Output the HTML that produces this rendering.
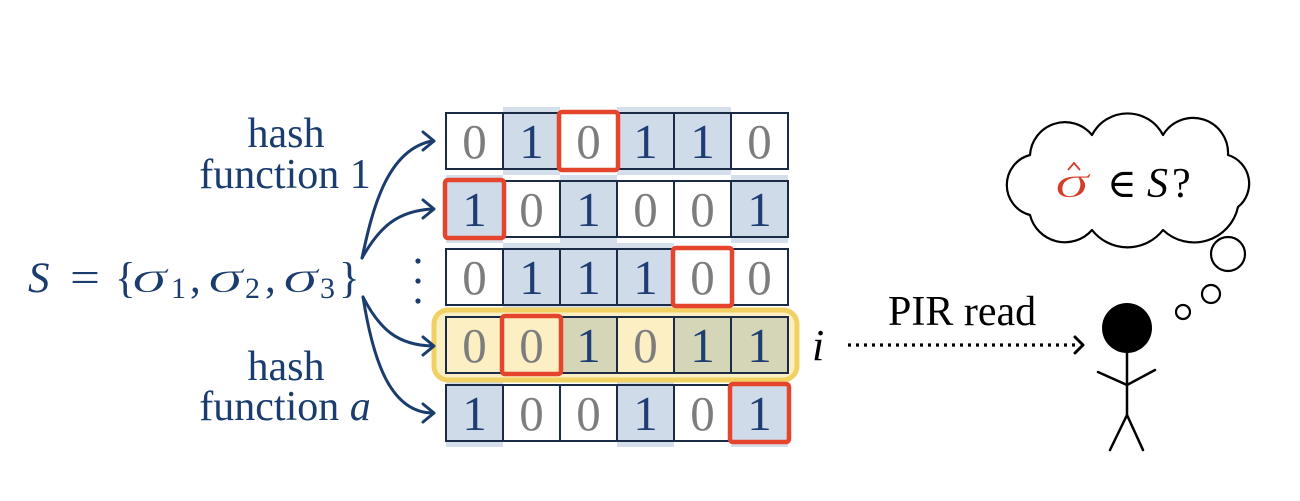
<!DOCTYPE html>
<html><head><meta charset="utf-8"><style>
html,body{margin:0;padding:0;background:#fff;}
svg{display:block;}
text{font-family:"Liberation Serif","Times New Roman","DejaVu Serif",serif;}
</style></head><body>
<svg width="1300" height="501" viewBox="0 0 1300 501" xmlns="http://www.w3.org/2000/svg" font-family="'Liberation Serif','Times New Roman','DejaVu Serif',serif">
<rect width="1300" height="501" fill="#fff"/>

<!-- shading extensions for 1-cells -->
<g fill="#d5dfec">
<rect x="503" y="107" width="57" height="68"/><rect x="617" y="107" width="57" height="68"/><rect x="674" y="107" width="57" height="68"/>
<rect x="446" y="175" width="57" height="68"/><rect x="560" y="175" width="57" height="68"/><rect x="731" y="175" width="57" height="68"/>
<rect x="503" y="243" width="57" height="68"/><rect x="560" y="243" width="57" height="68"/><rect x="617" y="243" width="57" height="68"/>
<rect x="446" y="379" width="57" height="68"/><rect x="617" y="379" width="57" height="68"/><rect x="731" y="379" width="57" height="68"/>
</g>

<!-- yellow highlight row -->
<rect x="434" y="310" width="363" height="70" rx="14" fill="#fcefc3" stroke="#f1d064" stroke-width="5"/>

<!-- cells -->
<g stroke="#1b2b45" stroke-width="2">
<rect x="446" y="113" width="57" height="56" fill="#fff"/>
<rect x="503" y="113" width="57" height="56" fill="#cfdbe9"/>
<rect x="560" y="113" width="57" height="56" fill="#fff"/>
<rect x="617" y="113" width="57" height="56" fill="#cfdbe9"/>
<rect x="674" y="113" width="57" height="56" fill="#cfdbe9"/>
<rect x="731" y="113" width="57" height="56" fill="#fff"/>
<rect x="446" y="181" width="57" height="56" fill="#cfdbe9"/>
<rect x="503" y="181" width="57" height="56" fill="#fff"/>
<rect x="560" y="181" width="57" height="56" fill="#cfdbe9"/>
<rect x="617" y="181" width="57" height="56" fill="#fff"/>
<rect x="674" y="181" width="57" height="56" fill="#fff"/>
<rect x="731" y="181" width="57" height="56" fill="#cfdbe9"/>
<rect x="446" y="249" width="57" height="56" fill="#fff"/>
<rect x="503" y="249" width="57" height="56" fill="#cfdbe9"/>
<rect x="560" y="249" width="57" height="56" fill="#cfdbe9"/>
<rect x="617" y="249" width="57" height="56" fill="#cfdbe9"/>
<rect x="674" y="249" width="57" height="56" fill="#fff"/>
<rect x="731" y="249" width="57" height="56" fill="#fff"/>
<rect x="446" y="317" width="57" height="56" fill="#fcefc3"/>
<rect x="503" y="317" width="57" height="56" fill="#fcefc3"/>
<rect x="560" y="317" width="57" height="56" fill="#d4d6b7"/>
<rect x="617" y="317" width="57" height="56" fill="#fcefc3"/>
<rect x="674" y="317" width="57" height="56" fill="#d4d6b7"/>
<rect x="731" y="317" width="57" height="56" fill="#d4d6b7"/>
<rect x="446" y="385" width="57" height="56" fill="#cfdbe9"/>
<rect x="503" y="385" width="57" height="56" fill="#fff"/>
<rect x="560" y="385" width="57" height="56" fill="#fff"/>
<rect x="617" y="385" width="57" height="56" fill="#cfdbe9"/>
<rect x="674" y="385" width="57" height="56" fill="#fff"/>
<rect x="731" y="385" width="57" height="56" fill="#cfdbe9"/>
</g>

<!-- digits -->
<g font-size="49" text-anchor="middle">
<g fill="#7d7d7e">
<text x="474.5" y="158">0</text><text x="588.5" y="158">0</text><text x="759.5" y="158">0</text>
<text x="531.5" y="226">0</text><text x="645.5" y="226">0</text><text x="702.5" y="226">0</text>
<text x="474.5" y="294">0</text><text x="702.5" y="294">0</text><text x="759.5" y="294">0</text>
<text x="474.5" y="362">0</text><text x="531.5" y="362">0</text><text x="645.5" y="362">0</text>
<text x="531.5" y="430">0</text><text x="588.5" y="430">0</text><text x="702.5" y="430">0</text>
</g>
<g fill="#1e3d72">
<text x="531.5" y="158">1</text><text x="645.5" y="158">1</text><text x="702.5" y="158">1</text>
<text x="474.5" y="226">1</text><text x="588.5" y="226">1</text><text x="759.5" y="226">1</text>
<text x="531.5" y="294">1</text><text x="588.5" y="294">1</text><text x="645.5" y="294">1</text>
<text x="588.5" y="362">1</text><text x="702.5" y="362">1</text><text x="759.5" y="362">1</text>
<text x="474.5" y="430">1</text><text x="645.5" y="430">1</text><text x="759.5" y="430">1</text>
</g>
</g>

<!-- red boxes -->
<g fill="none" stroke="#e5452d" stroke-width="4.5">
<rect x="559" y="112" width="59" height="58" rx="3"/>
<rect x="445" y="180" width="59" height="58" rx="3"/>
<rect x="673" y="248" width="59" height="58" rx="3"/>
<rect x="502" y="316" width="59" height="58" rx="3"/>
<rect x="730" y="384" width="59" height="58" rx="3"/>
</g>

<!-- left labels -->
<g fill="#1a3c6e" font-size="42" text-anchor="middle">
<text x="286" y="147">hash</text>
<text x="285" y="188">function 1</text>
<text x="286" y="380">hash</text>
<text x="285" y="420">function <tspan font-style="italic">a</tspan></text>
</g>

<!-- S = {σ1, σ2, σ3} -->
<g fill="#1a3c6e" font-size="43">
<text x="28" y="292" font-style="italic">S</text>
<text x="70" y="292" textLength="30" lengthAdjust="spacingAndGlyphs">=</text>
<text x="115" y="292">{</text>
<text x="132" y="292" font-style="italic" font-size="46" textLength="35" lengthAdjust="spacingAndGlyphs" stroke="#fff" stroke-width="0.8">σ</text>
<text x="171" y="298" font-size="30">1</text>
<text x="190" y="292">,</text>
<text x="208" y="292" font-style="italic" font-size="46" textLength="35" lengthAdjust="spacingAndGlyphs" stroke="#fff" stroke-width="0.8">σ</text>
<text x="245" y="298" font-size="30">2</text>
<text x="265" y="292">,</text>
<text x="283" y="292" font-style="italic" font-size="46" textLength="35" lengthAdjust="spacingAndGlyphs" stroke="#fff" stroke-width="0.8">σ</text>
<text x="320" y="298" font-size="30">3</text>
<text x="339" y="292">}</text>
</g>

<!-- vertical dots -->
<g fill="#1a3c6e">
<circle cx="418" cy="261" r="2.6"/><circle cx="418" cy="281" r="2.6"/><circle cx="418" cy="301" r="2.6"/>
</g>

<!-- curved arrows -->
<g fill="none" stroke="#1a3c6e" stroke-width="3" stroke-linecap="round" stroke-linejoin="round">
<path d="M362,258 C372,212 386,150 432,141"/>
<path d="M362,258 C380,226 398,211 432,209"/>
<path d="M363,297 C380,330 398,345 432,346"/>
<path d="M363,297 C373,360 390,412 432,413"/>
<polyline points="423,132 434,141 423,150"/>
<polyline points="423,200 434,209 423,218"/>
<polyline points="423,337 434,346 423,355"/>
<polyline points="423,404 434,413 423,422"/>
</g>

<!-- i label -->
<text x="812" y="360" font-size="44" font-style="italic" fill="#000">i</text>

<!-- PIR read -->
<text x="888" y="325" font-size="42" fill="#000">PIR read</text>
<line x1="848" y1="345" x2="1080" y2="345" stroke="#000" stroke-width="3.2" stroke-dasharray="3 5"/>
<polyline points="1075,337 1083,345 1075,353" fill="none" stroke="#000" stroke-width="3" stroke-linecap="round" stroke-linejoin="round"/>

<!-- stick figure -->
<circle cx="1127" cy="328" r="25" fill="#000"/>
<g fill="none" stroke="#000" stroke-width="2.5" stroke-linecap="round" stroke-linejoin="round">
<line x1="1127" y1="350" x2="1127" y2="415"/>
<polyline points="1098,372 1127,385 1155,370"/>
<polyline points="1110,450 1127,415 1143,450"/>
</g>

<!-- thought bubbles -->
<g fill="none" stroke="#000" stroke-width="2.2">
<circle cx="1183" cy="312" r="7"/>
<circle cx="1211" cy="294" r="9"/>
<circle cx="1228" cy="254" r="17"/>
</g>

<!-- cloud -->
<path d="M1030,155 A35,35 0 0 1 1092,135 A40,40 0 0 1 1163,135 A35,35 0 0 1 1228,155 A30,30 0 0 1 1238,207 A45,45 0 0 1 1163,230 A45,45 0 0 1 1092,230 A36,36 0 0 1 1030,215 A31,31 0 0 1 1030,155 Z" fill="#fff" stroke="#000" stroke-width="2.2" stroke-linejoin="round"/>

<text x="1055" y="197" font-size="46" font-style="italic" fill="#d43d2a" textLength="34" lengthAdjust="spacingAndGlyphs" stroke="#fff" stroke-width="0.8">σ</text>
<polyline points="1068,170 1074,163 1080,170" fill="none" stroke="#d43d2a" stroke-width="1.8" stroke-linejoin="miter"/>
<text x="1107" y="197" font-size="40" fill="#000" font-family="'DejaVu Serif',serif">∈</text>
<text x="1147" y="197" font-size="42" font-style="italic" fill="#000">S</text>
<text x="1172" y="197" font-size="42" fill="#000">?</text>
</svg>
</body></html>
